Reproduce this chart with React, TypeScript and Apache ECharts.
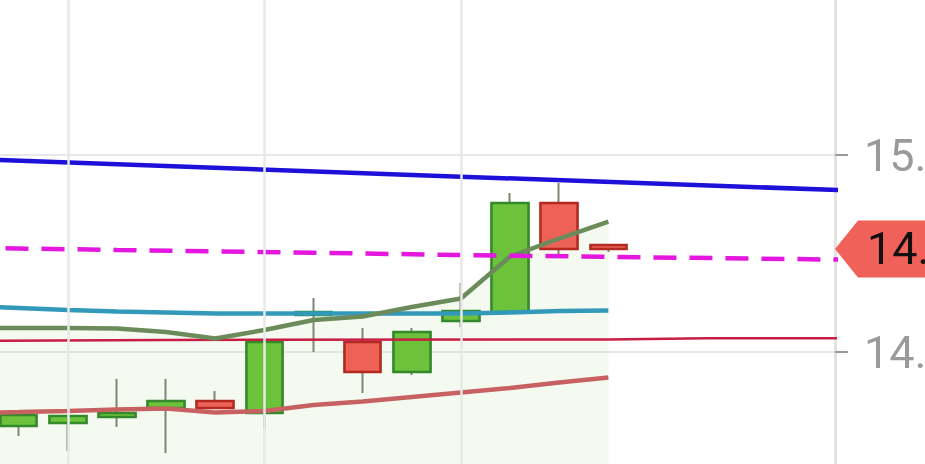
import React, { useEffect, useRef } from "react";
import * as echarts from "echarts";

// ---- data ----
const candleIndex = [0, 1, 2, 3, 4, 5, 6, 7, 8, 9, 10, 11, 12];
const opens = [13.624, 13.64, 13.67, 13.716, 13.751, 13.69, 14.188, 14.051, 13.898, 14.157, 14.203, 14.756, 14.543];
const closes = [13.68, 13.675, 13.69, 13.751, 13.716, 14.051, 14.203, 13.898, 14.102, 14.208, 14.756, 14.523, 14.523];
const lows = [13.574, 13.497, 13.619, 13.487, 13.711, 13.609, 14.0, 13.792, 13.883, 14.127, 14.203, 14.477, 14.508];
const highs = [13.68, 13.675, 13.863, 13.863, 13.802, 14.071, 14.274, 14.122, 14.122, 14.35, 14.807, 14.858, 14.543];

const lineIndex = [-1, 0, 1, 2, 3, 4, 5, 6, 7, 8, 9, 10, 11, 12];
const tealValues = [14.2335, 14.2234, 14.2132, 14.2056, 14.2005, 14.1954, 14.1954, 14.1954, 14.1954, 14.1954, 14.1954, 14.2005, 14.2081, 14.2107];
const greenValues = [14.1218, 14.1218, 14.1218, 14.1193, 14.1015, 14.0685, 14.1117, 14.1624, 14.1802, 14.2284, 14.2716, 14.4848, 14.5761, 14.6624];
const salmonValues = [13.6904, 13.6954, 13.7005, 13.7081, 13.7132, 13.693, 13.7005, 13.731, 13.7487, 13.7716, 13.7944, 13.8173, 13.8452, 13.8706];

const blueIndex = [-1, 8, 17];
const blueValues = [14.98, 14.899, 14.819];
const magentaIndex = [-1, 2, 6, 9, 12, 17];
const magentaValues = [14.529, 14.518, 14.504, 14.492, 14.483, 14.468];
const crimsonIndex = [-1, 3, 12, 14, 17];
const crimsonValues = [14.056, 14.061, 14.064, 14.07, 14.07];

const verticalGridIndex = [1, 5, 9];
const yMin = 13;
const yMax = 16;
const yStep = 1;
const xMin = -0.3795;
const xMax = 16.611;

const pairs = (xs: number[], ys: number[]) => xs.map((x, i) => [x, ys[i]]);

export default function App() {
  const ref = useRef<HTMLDivElement>(null);

  useEffect(() => {
    if (!ref.current) return;
    const chart = echarts.init(ref.current, null, { renderer: "svg" });

    const wickData = candleIndex.map((x, i) => [x, opens[i], closes[i], lows[i], highs[i]]);
    const bodyData = candleIndex.map((x, i) => [
      x,
      opens[i],
      closes[i],
      Math.min(opens[i], closes[i]),
      Math.max(opens[i], closes[i]),
    ]);

    const wickGray = "#7d8775";

    chart.setOption({
      animation: false,
      grid: {
        left: 0,
        right: 90,
        top: -42,
        bottom: -85,
        containLabel: false,
        outerBoundsMode: "none",
      },
      xAxis: {
        type: "value",
        min: xMin,
        max: xMax,
        show: false,
        axisLine: { onZero: false },
        splitLine: { show: false },
      },
      yAxis: {
        type: "value",
        position: "right",
        min: yMin,
        max: yMax,
        interval: yStep,
        axisLine: { show: true, onZero: false, lineStyle: { color: "#e3e3e3", width: 3 } },
        axisTick: { show: true, length: 13, lineStyle: { color: "#9a9a9a", width: 2 } },
        axisLabel: {
          margin: 29,
          color: "#9a9a9a",
          fontSize: 45,
          fontFamily: "Roboto",
          formatter: (v: number) => v.toFixed(2),
        },
        splitLine: { show: true, lineStyle: { color: "#e8e8e8", width: 2 } },
      },
      series: [
        {
          type: "line",
          data: [],
          silent: true,
          markLine: {
            silent: true,
            symbol: ["none", "none"],
            label: { show: false },
            lineStyle: { color: "#e9e9e9", width: 2.5, type: "solid" },
            data: verticalGridIndex.map((x) => ({ xAxis: x })),
          },
        },
        {
          type: "line",
          data: pairs(lineIndex, greenValues),
          symbol: "none",
          lineStyle: { width: 0, opacity: 0 },
          areaStyle: { color: "rgba(168,208,128,0.16)", origin: "start" },
          z: 1,
        },
        {
          type: "candlestick",
          data: wickData,
          encode: { x: 0, y: [1, 2, 3, 4] },
          barWidth: 37,
          itemStyle: {
            color: wickGray,
            color0: wickGray,
            borderColor: wickGray,
            borderColor0: wickGray,
            borderWidth: 2,
          },
        },
        {
          type: "candlestick",
          data: bodyData,
          encode: { x: 0, y: [1, 2, 3, 4] },
          barWidth: 37,
          itemStyle: {
            color: "#6dc23b",
            color0: "#ee6157",
            borderColor: "#328a2b",
            borderColor0: "#b42a21",
            borderWidth: 2.5,
          },
        },
        {
          type: "line",
          data: pairs(crimsonIndex, crimsonValues),
          symbol: "none",
          lineStyle: { color: "#c81e45", width: 2.5 },
        },
        {
          type: "line",
          data: pairs(lineIndex, salmonValues),
          symbol: "none",
          lineStyle: { color: "#c86262", width: 4.5 },
        },
        {
          type: "line",
          data: pairs(lineIndex, tealValues),
          symbol: "none",
          lineStyle: { color: "#3399bb", width: 4.5 },
        },
        {
          type: "line",
          data: pairs(lineIndex, greenValues),
          symbol: "none",
          lineStyle: { color: "#6b8b5b", width: 4.5 },
        },
        {
          type: "line",
          data: pairs(magentaIndex, magentaValues),
          symbol: "none",
          lineStyle: { color: "#e317dd", width: 4.5, type: [23, 13] },
        },
        {
          type: "line",
          data: pairs(blueIndex, blueValues),
          symbol: "none",
          lineStyle: { color: "#1d10d8", width: 4.5 },
        },
      ],
    });

    const last = closes[closes.length - 1];
    const py = chart.convertToPixel({ yAxisIndex: 0 }, last) as number;
    const px = chart.convertToPixel({ xAxisIndex: 0 }, xMax) as number;
    const h = 28.5;
    chart.setOption({
      graphic: [
        {
          type: "polygon",
          silent: true,
          z: 100,
          shape: {
            points: [
              [px, py],
              [px + 23, py - h],
              [px + 200, py - h],
              [px + 200, py + h],
              [px + 23, py + h],
            ],
          },
          style: { fill: "#f0615a" },
        },
        {
          type: "text",
          silent: true,
          z: 101,
          x: px + 32,
          y: py,
          style: {
            text: last.toFixed(2),
            fill: "#111111",
            fontSize: 45,
            fontFamily: "Roboto",
            verticalAlign: "middle",
            align: "left",
          },
        },
      ],
    });

    return () => chart.dispose();
  }, []);

  return (
    <div
      ref={ref}
      style={{ position: "fixed", left: 0, top: 0, width: 925, height: 464, overflow: "hidden" }}
    />
  );
}
